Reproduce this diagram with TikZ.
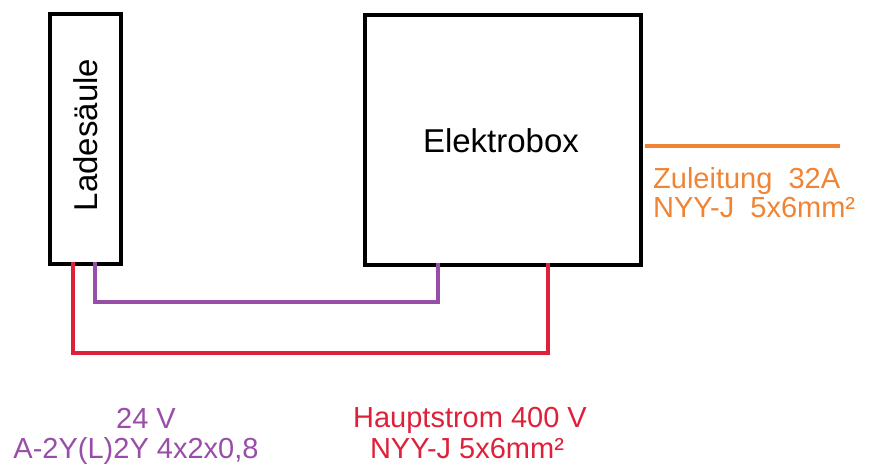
\documentclass[tikz,border=0pt]{standalone}
\usepackage{fontspec}
\setmainfont{Liberation Sans}
\usetikzlibrary{positioning,calc}
\definecolor{wirered}{RGB}{222,32,58}
\definecolor{wirepurple}{RGB}{152,78,168}
\definecolor{wireorange}{RGB}{240,132,52}
\tikzset{
  devicebox/.style={draw, line width=4.5pt, inner sep=0pt, outer sep=0pt},
  devicelabel/.style={inner sep=0pt, font=\fontsize{33}{36}\selectfont},
  cablelabel/.style={inner sep=0pt, anchor=base, font=\fontsize{29}{30}\selectfont},
  wire/.style={line width=4pt, line cap=rect}
}

\begin{document}
\begin{tikzpicture}[x=1pt, y=-1pt]
\useasboundingbox (0,0) rectangle (869,475);
\node[devicebox, minimum width=71pt, minimum height=250pt] (ladesaeule) at (85.5,139) {};
\node[devicelabel, rotate=90] (ladetext) at (86,135) {Ladesäule};
\node[devicebox, minimum width=276pt, minimum height=250pt] (elektrobox) at (503,140) {};
\node[devicelabel, anchor=base] (elektrotext) at (501,152) {Elektrobox};
\coordinate (zuleitungend) at (840,146);
\draw[wire, wirepurple] ([xshift=9.5pt]ladesaeule.south) -- ++(0,38) -| ([xshift=-65pt]elektrobox.south);
\draw[wire, wirered] ([xshift=-12.5pt]ladesaeule.south) -- ++(0,89) -| ([xshift=45pt]elektrobox.south);
\draw[wire, wireorange, line cap=butt] ([xshift=4pt,yshift=-6pt]elektrobox.east) -- (zuleitungend);
\node[cablelabel, wireorange, anchor=base west] (zuleitung1) at (653,188) {Zuleitung\ \ 32A};
\node[cablelabel, wireorange, anchor=base west] (zuleitung2) at (653,217) {NYY-J\ \ 5x6mm²};
\node[cablelabel, wirepurple] (signal1) at (146,428) {24 V};
\node[cablelabel, wirepurple] (signal2) at (136,458) {A-2Y(L)2Y 4x2x0,8};
\node[cablelabel, wirered] (haupt1) at (470,427) {Hauptstrom 400 V};
\node[cablelabel, wirered] (haupt2) at (467,458) {NYY-J 5x6mm²};
\end{tikzpicture}
\end{document}
